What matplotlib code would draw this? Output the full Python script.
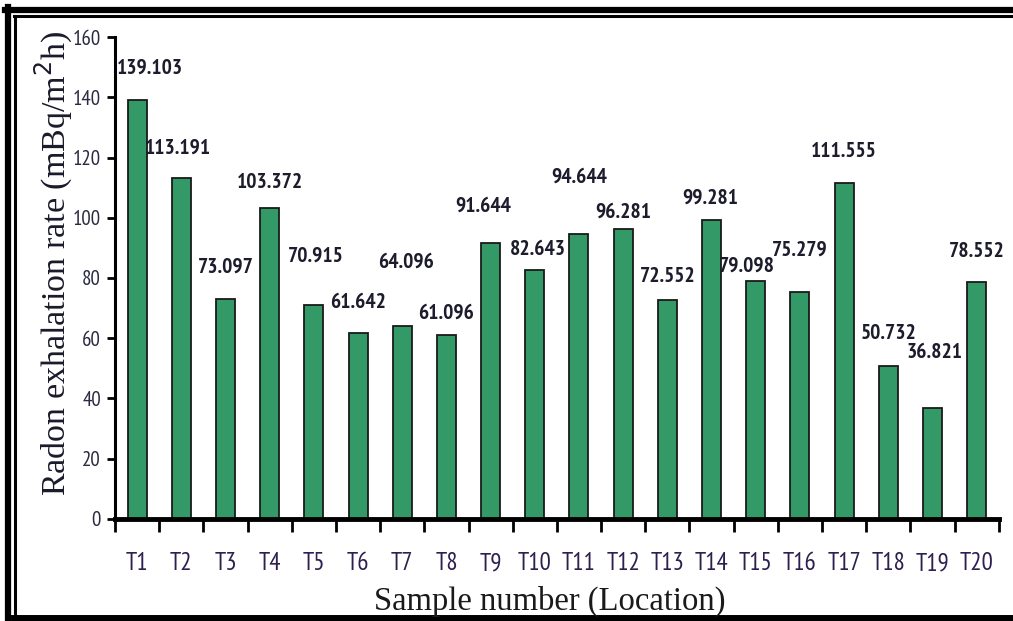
import matplotlib
matplotlib.use("Agg")
import matplotlib.pyplot as plt
from matplotlib.lines import Line2D

samples = ["T1", "T2", "T3", "T4", "T5", "T6", "T7", "T8", "T9", "T10",
           "T11", "T12", "T13", "T14", "T15", "T16", "T17", "T18", "T19", "T20"]
rates = [139.103, 113.191, 73.097, 103.372, 70.915, 61.642, 64.096, 61.096, 91.644, 82.643,
         94.644, 96.281, 72.552, 99.281, 79.098, 75.279, 111.555, 50.732, 36.821, 78.552]
# label placement relative to the bar top (y units) and bar centre (x units)
label_gap = [10.6, 10.0, 10.6, 8.2, 16.4, 10.1, 21.2, 7.3, 12.3, 6.7,
             18.9, 5.6, 8.1, 7.3, 4.9, 14.0, 10.3, 10.7, 18.3, 10.1]
label_dx = [0.29, -0.07, 0.0, 0.0, 0.05, 0.0, 0.09, 0.0, -0.16, 0.07,
            0.0, 0.0, 0.0, -0.04, -0.2, 0.0, 0.0, 0.0, 0.05, 0.0]

narrow = ["PT Sans Narrow", "Archivo Narrow", "DejaVu Sans"]
serif = ["Liberation Serif", "DejaVu Serif"]

fig = plt.figure(figsize=(10.13, 6.21), dpi=100)
ax = fig.add_axes([0.1135, 0.1643, 0.8725, 0.7761])

x = list(range(len(samples)))
ax.bar(x, rates, width=0.43, color="#339966", edgecolor="#1a1a1a", linewidth=1.3, zorder=2)

for i, v in enumerate(rates):
    ax.text(i + label_dx[i], v + label_gap[i], f"{v:.3f}", ha="center", va="center",
            fontsize=15.5, fontweight="bold", family=narrow, color="#1c1c2c")

ax.set_xlim(-0.5, len(samples) - 0.5)
ax.set_ylim(0, 160)
ax.set_yticks(range(0, 161, 20))
ax.tick_params(axis="y", direction="out", length=6, width=2, labelsize=15,
               labelcolor="#2a2a40", pad=4)
for lab in ax.get_yticklabels():
    lab.set_family(narrow)

ax.set_xticks([i - 0.5 for i in range(len(samples) + 1)])
ax.set_xticklabels([])
ax.tick_params(axis="x", which="major", direction="out", length=9, width=2)
ax.set_xticks(x, minor=True)
ax.set_xticklabels(samples, minor=True, fontsize=18, family=narrow, color="#2d1f4f")
ax.tick_params(axis="x", which="minor", length=0, pad=24)

ax.spines["top"].set_visible(False)
ax.spines["right"].set_visible(False)
ax.spines["left"].set_linewidth(2.2)
ax.spines["bottom"].set_linewidth(3.5)

fig.text(54 / 1013, 1 - 263 / 621, "Radon exhalation rate (mBq/m$^2$h)", rotation=90,
         ha="center", va="center", fontsize=24.5, family=serif, color="#1a1a2a")
fig.text(0.543, 0.006, "Sample number (Location)", ha="center", va="bottom",
         fontsize=23.5, family=serif, color="#1a1a1a")

# double frame around the picture
fig.add_artist(Line2D([8 / 1013, 8 / 1013], [0, 1 - 7 / 621], transform=fig.transFigure,
                      color="black", linewidth=4.5))
fig.add_artist(Line2D([5 / 1013, 1], [1 - 10 / 621, 1 - 10 / 621], transform=fig.transFigure,
                      color="black", linewidth=4.5))
fig.add_artist(Line2D([15 / 1013, 15 / 1013], [4 / 621, 1 - 16 / 621], transform=fig.transFigure,
                      color="black", linewidth=2.2))
fig.add_artist(Line2D([14 / 1013, 1], [1 - 16 / 621, 1 - 16 / 621], transform=fig.transFigure,
                      color="black", linewidth=2.2))
fig.add_artist(Line2D([14 / 1013, 1], [3 / 621, 3 / 621], transform=fig.transFigure,
                      color="black", linewidth=5))

fig.savefig("out.png", dpi=100)
